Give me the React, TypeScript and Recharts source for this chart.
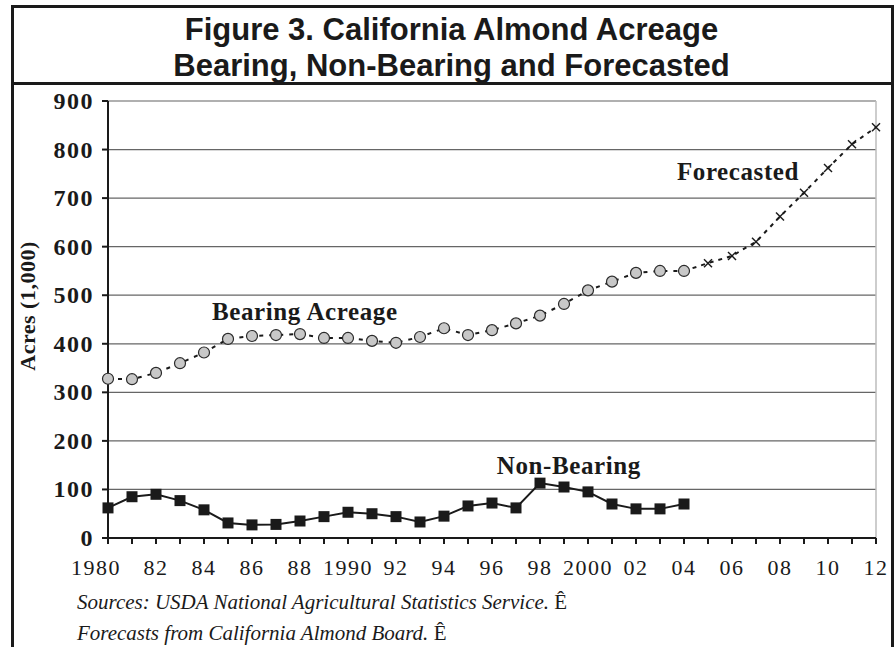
import React from 'react';
import { LineChart, Line, CartesianGrid, XAxis, YAxis, ReferenceLine, ReferenceDot } from 'recharts';

// years on the x axis, 1980 .. 2012
const years = [
  1980, 1981, 1982, 1983, 1984, 1985, 1986, 1987, 1988, 1989, 1990,
  1991, 1992, 1993, 1994, 1995, 1996, 1997, 1998, 1999, 2000,
  2001, 2002, 2003, 2004, 2005, 2006, 2007, 2008, 2009, 2010, 2011, 2012,
];

// acres (1,000), 1980 .. 2004
const bearing = [
  328, 327, 340, 360, 382, 410, 416, 418, 420, 412, 412,
  406, 402, 414, 432, 418, 428, 442, 458, 482, 510,
  528, 546, 550, 550,
];
const nonBearing = [
  62, 85, 90, 77, 58, 31, 27, 28, 35, 44, 53,
  50, 44, 33, 45, 66, 72, 62, 113, 105, 95,
  70, 60, 60, 70,
];
// 2004 .. 2012
const forecastYears = [2004, 2005, 2006, 2007, 2008, 2009, 2010, 2011, 2012];
const forecast = [550, 566, 581, 610, 662, 711, 762, 811, 846];

const yTicks = [0, 100, 200, 300, 400, 500, 600, 700, 800, 900];
const xLabels: Record<number, string> = {
  1980: '1980', 1982: '82', 1984: '84', 1986: '86', 1988: '88', 1990: '1990',
  1992: '92', 1994: '94', 1996: '96', 1998: '98', 2000: '2000', 2002: '02',
  2004: '04', 2006: '06', 2008: '08', 2010: '10', 2012: '12',
};

const data = years.map((year, i) => {
  const f = forecastYears.indexOf(year);
  return {
    year,
    bearing: i < bearing.length ? bearing[i] : null,
    nonBearing: i < nonBearing.length ? nonBearing[i] : null,
    forecast: f >= 0 ? forecast[f] : null,
  };
});

const serif = '"Liberation Serif", "Times New Roman", serif';
const sans = '"Liberation Sans", Arial, sans-serif';

const XTick = (props: any) => {
  const { x, y, payload } = props;
  const label = xLabels[payload.value];
  if (!label) return null;
  const dx = payload.value === 1980 ? -12 : 0;
  return (
    <text x={x + dx} y={y} dy={29} textAnchor="middle" fontFamily={serif} fontSize={22} letterSpacing={1.5} fill="#1a1a1a">
      {label}
    </text>
  );
};

const YTick = (props: any) => {
  const { x, y, payload } = props;
  return (
    <text x={x - 6} y={y} dy={8} textAnchor="end" fontFamily={serif} fontSize={24} fontWeight="bold" letterSpacing={1.5} fill="#1a1a1a">
      {payload.value}
    </text>
  );
};

const SquareDot = (props: any) => {
  const { cx, cy, index } = props;
  if (cx == null || cy == null) return <g key={`s${index}`} />;
  return <rect key={`s${index}`} x={cx - 5.5} y={cy - 5.5} width={11} height={11} fill="#1a1a1a" />;
};

const CrossDot = (props: any) => {
  const { cx, cy, index, payload } = props;
  if (cx == null || cy == null || payload.bearing != null) return <g key={`x${index}`} />;
  return (
    <g key={`x${index}`} stroke="#1a1a1a" strokeWidth={1.4}>
      <line x1={cx - 4} y1={cy - 4} x2={cx + 4} y2={cy + 4} />
      <line x1={cx - 4} y1={cy + 4} x2={cx + 4} y2={cy - 4} />
    </g>
  );
};

const annotation = (value: string) => ({
  value,
  position: 'center' as const,
  fill: '#1a1a1a',
  fontSize: 25,
  fontWeight: 'bold',
  fontFamily: serif,
  letterSpacing: 0.6,
});

export default function App() {
  return (
    <div style={{ position: 'absolute', left: 0, top: 0, width: 895, height: 647, overflow: 'hidden', background: '#fff' }}>
      <div style={{ position: 'absolute', left: 11, top: 5, width: 877, height: 700, border: '3px solid #1a1a1a' }} />
      <div style={{ position: 'absolute', left: 11, top: 82, width: 883, height: 3, background: '#1a1a1a' }} />
      <div
        style={{
          position: 'absolute', left: 12, top: 12, width: 879, textAlign: 'center',
          fontFamily: sans, fontWeight: 'bold', fontSize: 31, lineHeight: '36px', color: '#1a1a1a',
        }}
      >
        Figure 3. California Almond Acreage
        <br />
        Bearing, Non-Bearing and Forecasted
      </div>
      <div
        style={{
          position: 'absolute', left: 28, top: 306, transform: 'translate(-50%, -50%) rotate(-90deg)',
          fontFamily: serif, fontWeight: 'bold', fontSize: 22, letterSpacing: 0.5, whiteSpace: 'nowrap', color: '#1a1a1a',
        }}
      >
        Acres (1,000)
      </div>
      <div style={{ position: 'absolute', left: 0, top: 0 }}>
        <LineChart width={895} height={647} data={data} margin={{ top: 101, right: 19, bottom: 79, left: 48 }}>
          <CartesianGrid vertical={false} stroke="#666" strokeWidth={1.3} />
          <ReferenceLine y={900} stroke="#bdbdbd" strokeWidth={1.5} />
          <ReferenceLine x={2012} stroke="#bdbdbd" strokeWidth={1.5} />
          <XAxis
            dataKey="year"
            type="number"
            domain={[1980, 2012]}
            ticks={years}
            interval={0}
            tick={<XTick />}
            tickSize={6}
            tickLine={{ stroke: '#1a1a1a', strokeWidth: 2 }}
            axisLine={{ stroke: '#1a1a1a', strokeWidth: 2 }}
            height={30}
          />
          <YAxis
            domain={[0, 900]}
            ticks={yTicks}
            interval={0}
            tick={<YTick />}
            tickSize={6}
            tickLine={{ stroke: '#1a1a1a', strokeWidth: 2 }}
            axisLine={{ stroke: '#1a1a1a', strokeWidth: 2 }}
            width={60}
          />
          <Line
            dataKey="forecast"
            stroke="#1a1a1a"
            strokeWidth={2}
            strokeDasharray="4 5"
            dot={CrossDot}
            connectNulls={false}
            isAnimationActive={false}
          />
          <Line
            dataKey="bearing"
            stroke="#1a1a1a"
            strokeWidth={2}
            strokeDasharray="4 6"
            dot={{ r: 5.5, fill: '#c8c8c8', stroke: '#2a2a2a', strokeWidth: 1.2, strokeDasharray: '0' }}
            isAnimationActive={false}
          />
          <Line
            dataKey="nonBearing"
            stroke="#1a1a1a"
            strokeWidth={2}
            dot={SquareDot}
            isAnimationActive={false}
          />
          <ReferenceDot x={1988.2} y={468} r={0} stroke="none" label={annotation('Bearing Acreage')} />
          <ReferenceDot x={2006.25} y={755} r={0} stroke="none" label={annotation('Forecasted')} />
          <ReferenceDot x={1999.2} y={150} r={0} stroke="none" label={annotation('Non-Bearing')} />
        </LineChart>
      </div>
      <div
        style={{
          position: 'absolute', left: 77, top: 587, fontFamily: serif, fontStyle: 'italic', fontSize: 21,
          lineHeight: '31px', color: '#1a1a1a', whiteSpace: 'nowrap',
        }}
      >
        Sources: USDA National Agricultural Statistics Service. <span style={{ fontStyle: 'normal' }}>Ê</span>
        <br />
        Forecasts from California Almond Board. <span style={{ fontStyle: 'normal' }}>Ê</span>
      </div>
    </div>
  );
}
